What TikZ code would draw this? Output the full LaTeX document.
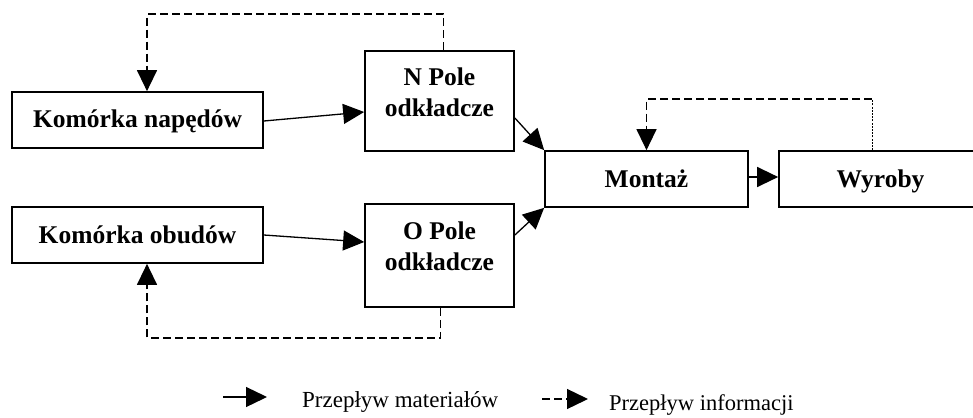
\documentclass[tikz,border=0pt]{standalone}
\usepackage{fontspec}
\setmainfont{Liberation Serif}
\usetikzlibrary{arrows.meta}
\begin{document}
\begin{tikzpicture}[x=1pt,y=-1pt,
  box/.style={draw, line width=1.7pt, inner sep=0pt},
  btxt/.style={font=\fontsize{25.5}{30}\selectfont\bfseries, inner sep=0pt},
  cbox/.style={box, btxt, text height=16pt, text depth=0pt},
  ltxt/.style={font=\fontsize{23}{27}\selectfont, inner sep=0pt, anchor=base west},
  flow/.style={line width=1.3pt, -{Triangle[length=21pt,width=20pt]}},
  info/.style={line width=1.3pt, dash pattern=on 8pt off 4pt, -{Triangle[length=21pt,width=20pt]}},
  infothin/.style={line width=0.8pt, dash pattern=on 2pt off 1.2pt},
]
\useasboundingbox (0,0) rectangle (973,417);

% boxes
\node[cbox, minimum width=251pt, minimum height=56pt] (kn) at (137.5,120) {Komórka napędów};
\node[cbox, minimum width=251pt, minimum height=56pt] (ko) at (137.5,235) {Komórka obudów};
\node[box, minimum width=149pt, minimum height=100pt] (npole) at (439.5,101) {};
\node[box, minimum width=149pt, minimum height=103pt] (opole) at (439.5,255.5) {};
\node[cbox, minimum width=203pt, minimum height=56pt] (montaz) at (646.5,179) {Montaż};
\node[cbox, minimum width=203pt, minimum height=56pt] (wyroby) at (880.5,179) {Wyroby};

% texts of the two storage boxes
\node[btxt, anchor=base] (npa) at (439.5,86) {N Pole};
\node[btxt, anchor=base] (npb) at (439.5,117) {odkładcze};
\node[btxt, anchor=base] (opa) at (439.5,239) {O Pole};
\node[btxt, anchor=base] (opb) at (439.5,270) {odkładcze};

% material flow
\draw[flow] ([yshift=-1pt]kn.east) -- ([yshift=-11pt]npole.west);
\draw[flow] (ko.east) -- ([yshift=13.5pt]opole.west);
\draw[flow] ([yshift=-17pt]npole.east) -- (montaz.north west);
\draw[flow] ([yshift=20.5pt]opole.east) -- (montaz.south west);
\draw[flow] ([yshift=2pt]montaz.east) -- ([yshift=2pt]wyroby.west);

% information flow
\draw[info] ([xshift=4pt]npole.north) -- ++(0,-36) -| ([xshift=9.5pt]kn.north);
\draw[info] ([xshift=1pt]opole.south) -- ++(0,30) -| ([xshift=9.5pt]ko.south);
\path ([xshift=-8.5pt]wyroby.north) ++(0,-51) coordinate (wtop);
\draw[infothin] ([xshift=-8.5pt]wyroby.north) -- (wtop);
\draw[info] (wtop) -| (montaz.north);

% legend
\coordinate (la) at (223,397);
\coordinate (lb) at (267,397);
\draw[flow] (la) -- (lb);
\node[ltxt] (lt1) at (302,407) {Przepływ materiałów};
\coordinate (lc) at (542,399);
\coordinate (ld) at (588,399);
\draw[info] (lc) -- (ld);
\node[ltxt, font=\fontsize{22.5}{27}\selectfont] (lt2) at (609,410) {Przepływ informacji};
\end{tikzpicture}
\end{document}
